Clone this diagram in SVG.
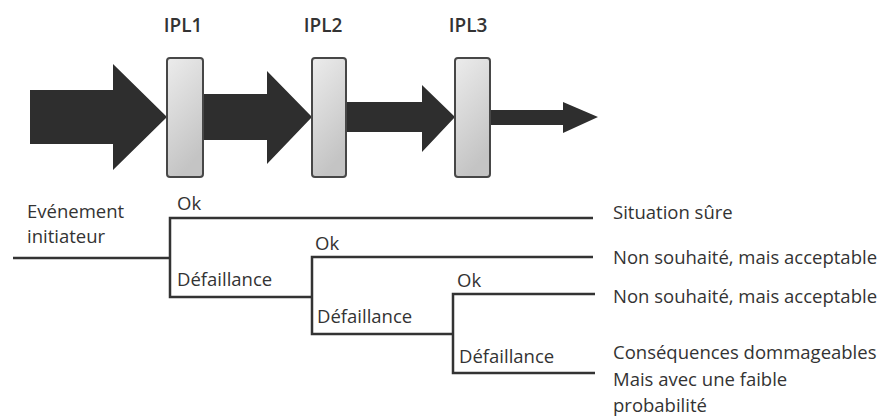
<svg xmlns="http://www.w3.org/2000/svg" width="880" height="418" viewBox="0 0 880 418">
  <defs>
    <linearGradient id="barFill" x1="0" y1="0" x2="0.35" y2="1">
      <stop offset="0" stop-color="#ececec"/>
      <stop offset="1" stop-color="#c4c4c4"/>
    </linearGradient>
  </defs>
  <style>
    .flow { fill: #2e2e2e; }
    .bar { fill: url(#barFill); stroke: #474747; stroke-width: 2; }
    .ipl { font-family: "Open Sans", "DejaVu Sans", sans-serif; font-size: 19px; font-weight: 600; fill: #333; text-anchor: middle; }
    .lbl { font-family: "Open Sans", "DejaVu Sans", sans-serif; font-size: 18.5px; fill: #333; }
    .branch { fill: none; stroke: #333; stroke-width: 2.5; stroke-linejoin: miter; stroke-linecap: butt; }
  </style>
  <rect width="880" height="418" fill="#fff"/>

  <!-- Flow arrows, shrinking after each protection layer -->
  <g id="flow-arrows">
    <polygon class="flow" points="30,90 113,90 113,64 167,117 113,170 113,144 30,144"/>
    <polygon class="flow" points="202,94 267,94 267,71 312,117 267,164 267,140 202,140"/>
    <polygon class="flow" points="345,102 422,102 422,85 455,117 422,152 422,132 345,132"/>
    <polygon class="flow" points="490,110 563,110 563,102 598,117 563,133 563,125 490,125"/>
  </g>

  <!-- Protection layers -->
  <g id="ipl1">
    <rect class="bar" x="167" y="58" width="36" height="119" rx="3"/>
    <text class="ipl" x="183" y="32">IPL1</text>
  </g>
  <g id="ipl2">
    <rect class="bar" x="312" y="58" width="34" height="119" rx="3"/>
    <text class="ipl" x="323" y="32">IPL2</text>
  </g>
  <g id="ipl3">
    <rect class="bar" x="455" y="58" width="35" height="119" rx="3"/>
    <text class="ipl" x="468" y="32">IPL3</text>
  </g>

  <!-- Event tree branches -->
  <g id="connectors">
    <path class="branch" d="M13,258 H170"/>
    <path class="branch" d="M593,218 H170 V297 H312"/>
    <path class="branch" d="M593,257 H312 V334 H453"/>
    <path class="branch" d="M595,294 H453 V373 H595"/>
  </g>

  <g id="initiating-event">
    <text class="lbl" x="27" y="218">Evénement</text>
    <text class="lbl" x="27" y="243">initiateur</text>
  </g>

  <g id="branch-labels">
    <text class="lbl" x="177" y="210">Ok</text>
    <text class="lbl" x="177" y="286">Défaillance</text>
    <text class="lbl" x="315" y="250">Ok</text>
    <text class="lbl" x="317" y="323">Défaillance</text>
    <text class="lbl" x="457" y="287">Ok</text>
    <text class="lbl" x="459" y="363">Défaillance</text>
  </g>

  <g id="outcome-safe">
    <text class="lbl" x="613" y="219">Situation sûre</text>
  </g>
  <g id="outcome-acceptable-1">
    <text class="lbl" x="613" y="264">Non souhaité, mais acceptable</text>
  </g>
  <g id="outcome-acceptable-2">
    <text class="lbl" x="613" y="303">Non souhaité, mais acceptable</text>
  </g>
  <g id="outcome-damage">
    <text class="lbl" x="613" y="359">Conséquences dommageables</text>
    <text class="lbl" x="613" y="386">Mais avec une faible</text>
    <text class="lbl" x="613" y="412">probabilité</text>
  </g>
</svg>
